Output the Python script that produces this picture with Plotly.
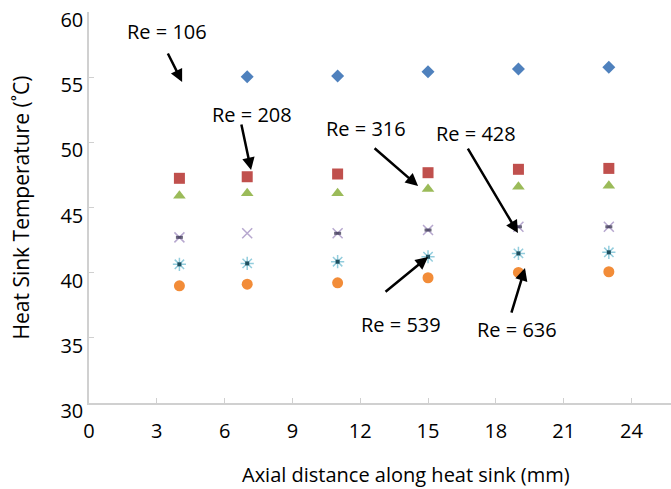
import plotly.graph_objects as go

# ---- data ----
axial_mm = [4, 7, 11, 15, 19, 23]
re_106 = [None, 55.03, 55.09, 55.42, 55.63, 55.76]
re_208 = [47.24, 47.36, 47.57, 47.67, 47.93, 48.00]
re_316 = [45.90, 46.09, 46.09, 46.42, 46.59, 46.67]
re_428 = [42.71, 43.02, 43.02, 43.27, 43.52, 43.52]
re_539 = [40.64, 40.71, 40.84, 41.22, 41.48, 41.56]
re_636 = [38.99, 39.12, 39.22, 39.61, 40.02, 40.07]

x_ticks = [0, 3, 6, 9, 12, 15, 18, 21, 24]
y_ticks = [30, 35, 40, 45, 50, 55, 60]

FONT = "Open Sans"

fig = go.Figure()

def add(y, symbol, color, size, line=None, name=""):
    marker = dict(symbol=symbol, color=color, size=size)
    if line:
        marker["line"] = line
    fig.add_trace(go.Scatter(x=axial_mm, y=y, mode="markers", marker=marker,
                             name=name, showlegend=False))

add(re_106, "diamond", "#4F81BD", 10, name="Re = 106")
add(re_208, "square", "#C0504D", 11, name="Re = 208")
add(re_316, "triangle-up", "#9BBB59", 11, name="Re = 316")
add(re_428, "x-thin-open", "#B7A8CF", 10, line=dict(width=1.5, color="#B7A8CF"), name="Re = 428")
# dark centre of the x markers
fig.add_trace(go.Scatter(x=axial_mm, y=re_428, mode="markers",
                         marker=dict(symbol="line-ew-open", size=[5, 0, 5, 5, 5, 5],
                                     color="#2B2745",
                                     line=dict(width=3, color="#2B2745")),
                         showlegend=False, hoverinfo="skip"))
add(re_539, "asterisk-open", "#93CDDD", 11, line=dict(width=1.5, color="#93CDDD"), name="Re = 539")
fig.add_trace(go.Scatter(x=axial_mm, y=re_539, mode="markers",
                         marker=dict(symbol="square", size=4, color="#1F4F5F"),
                         showlegend=False, hoverinfo="skip"))
add(re_636, "circle", "#F28C38", 11, name="Re = 636")

# ---- annotations ----
labels = [
    ("Re = 106", 3.45, 58.47),
    ("Re = 208", 7.21, 52.1),
    ("Re = 316", 12.26, 51.1),
    ("Re = 428", 17.12, 50.64),
    ("Re = 539", 13.8, 36.06),
    ("Re = 636", 18.94, 35.67),
]
for t, x, y in labels:
    fig.add_annotation(x=x, y=y, text=t, showarrow=False,
                       font=dict(family=FONT, size=20, color="#000000"))

arrows = [
    (4.12, 54.63, -15, -30),
    (7.17, 47.87, -10, -47),
    (14.56, 46.65, -45, -39),
    (18.98, 43.04, -51, -86),
    (15.0, 41.2, -44, 36),
    (19.29, 40.35, -14, 46),
]
for x, y, ax, ay in arrows:
    fig.add_annotation(x=x, y=y, ax=ax, ay=ay, text="", showarrow=True,
                       arrowhead=2, arrowsize=1, arrowwidth=2.5,
                       arrowcolor="#000000", standoff=0)

fig.add_annotation(xref="paper", yref="paper", x=0.545, y=-0.184,
                   text="Axial distance along heat sink (mm)", showarrow=False,
                   yanchor="middle",
                   font=dict(family=FONT, size=20, color="#000000"))
fig.add_annotation(xref="paper", yref="paper", x=0, xshift=-69, y=0.5,
                   text="Heat Sink Temperature (˚C)", showarrow=False,
                   textangle=-90, xanchor="center", yanchor="middle",
                   font=dict(family=FONT, size=21, color="#000000"))

fig.update_layout(
    width=671, height=489,
    margin=dict(l=89, r=0, t=12, b=86),
    paper_bgcolor="white", plot_bgcolor="white",
    font=dict(family=FONT, size=19, color="#000000"),
)
fig.update_xaxes(range=[0, 25.75], tickvals=x_ticks, ticktext=[str(v) for v in x_ticks],
                 automargin=False,
                 showgrid=False, zeroline=False, showline=True, linecolor="#D0D0D0",
                 linewidth=1.5, ticks="inside", ticklen=5, tickcolor="#D0D0D0",
                 ticklabelstandoff=9,
                 tickfont=dict(family=FONT, size=20, color="#000000"))
fig.update_yaxes(range=[30, 60], tickvals=y_ticks, ticktext=[str(v) for v in y_ticks],
                 automargin=False,
                 showgrid=False, zeroline=False, showline=True, linecolor="#D0D0D0",
                 linewidth=1.5, ticks="inside", ticklen=5, tickcolor="#D0D0D0",
                 ticklabelshift=8, ticklabeloverflow="allow",
                 tickfont=dict(family=FONT, size=20, color="#000000"))

fig.write_html("out.html", config={"displayModeBar": False},
               post_script="document.body.style.margin='0';")
